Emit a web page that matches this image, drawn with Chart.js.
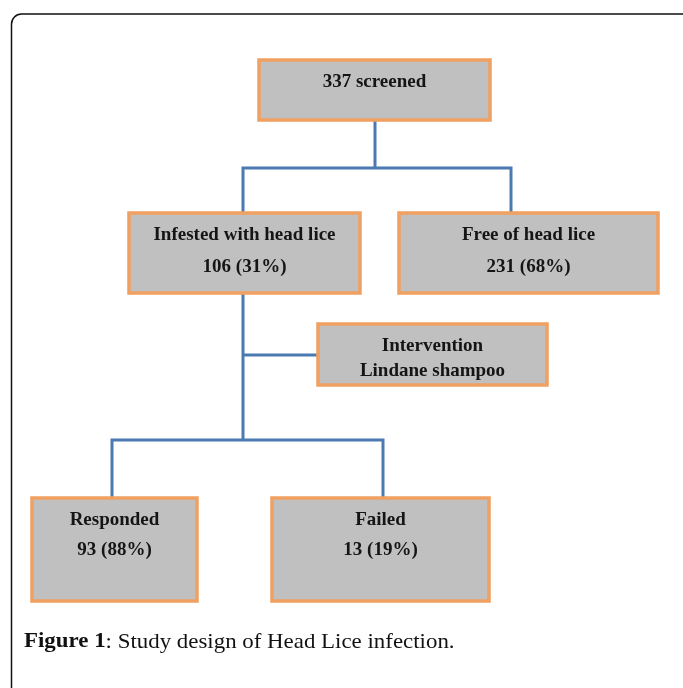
<!DOCTYPE html>
<html>
<head>
<meta charset="utf-8">
<script src="https://cdn.jsdelivr.net/npm/chart.js@4/dist/chart.umd.min.js"></script>
<style>
	html, body { margin: 0; padding: 0; background: #fff; }
	#chart { display: block; }
</style>
</head>
<body>
<canvas id="chart" width="683" height="688"></canvas>
<script>

/*
 * Flowchart content.
 */
const nodeLabels = [ "337 screened", "Infested with head lice", "Free of head lice", "Intervention", "Responded", "Failed" ];
const nodeSublabels = [ "", "106 (31%)", "231 (68%)", "Lindane shampoo", "93 (88%)", "13 (19%)" ];
const captionBold = "Figure 1";
const captionText = ": Study design of Head Lice infection.";

/*
 * Box layout, in chart units ( x: 0..683, y: 0..688 downwards ).
 */
const boxLeft   = [ 259, 129, 399, 318,  32, 272 ];
const boxTop    = [  60, 213, 213, 324, 498, 498 ];
const boxRight  = [ 490, 360, 658, 547, 197, 489 ];
const boxBottom = [ 120, 293, 293, 385, 601, 601 ];
const lineGap   = [  30,  32,  32,  25,  30,  30 ];

/*
 * Connector paths between the boxes.
 */
const connectors = [
	[ [ 375, 120 ], [ 375, 168 ] ],
	[ [ 243, 213 ], [ 243, 168 ], [ 511, 168 ], [ 511, 213 ] ],
	[ [ 243, 293 ], [ 243, 440 ] ],
	[ [ 243, 355 ], [ 318, 355 ] ],
	[ [ 112, 498 ], [ 112, 440 ], [ 383, 440 ], [ 383, 498 ] ]
];

// Boxes, frame and caption drawn round the connector datasets.
const flowPlugin = {
	id: "flow",
	beforeDatasetsDraw: function( chart )
	{
		const ctx = chart.ctx;
		const x = chart.scales.x;
		const y = chart.scales.y;
		
		// Outer figure frame with rounded top-left corner.
		ctx.save();
		ctx.strokeStyle = "#111";
		ctx.lineWidth = 1.5;
		ctx.beginPath();
		ctx.moveTo( x.getPixelForValue( 11.5 ), y.getPixelForValue( 700 ) );
		ctx.lineTo( x.getPixelForValue( 11.5 ), y.getPixelForValue( 24 ) );
		ctx.arcTo( x.getPixelForValue( 11.5 ), y.getPixelForValue( 14 ), x.getPixelForValue( 21.5 ), y.getPixelForValue( 14 ), 10 );
		ctx.lineTo( x.getPixelForValue( 700 ), y.getPixelForValue( 14 ) );
		ctx.stroke();
		ctx.restore();
	},
	afterDatasetsDraw: function( chart )
	{
		const ctx = chart.ctx;
		const x = chart.scales.x;
		const y = chart.scales.y;
		
		ctx.save();
		nodeLabels.forEach( ( label, i ) =>
		{
			const left = x.getPixelForValue( boxLeft[i] );
			const right = x.getPixelForValue( boxRight[i] );
			const top = y.getPixelForValue( boxTop[i] );
			const bottom = y.getPixelForValue( boxBottom[i] );
			
			// Box body.
			ctx.fillStyle = "#c0c0c0";
			ctx.fillRect( left, top, right - left, bottom - top );
			ctx.strokeStyle = "#f0a060";
			ctx.lineWidth = 3.5;
			ctx.strokeRect( left, top, right - left, bottom - top );
			
			// Box text.
			const cx = ( left + right ) / 2;
			ctx.fillStyle = "#151515";
			ctx.font = "bold 19px 'Liberation Serif', 'DejaVu Serif', serif";
			ctx.textAlign = "center";
			ctx.textBaseline = "middle";
			ctx.fillText( label, cx, top + 22 );
			if( nodeSublabels[i] )
			{
				ctx.fillText( nodeSublabels[i], cx, top + 22 + lineGap[i] );
			}
		});
		
		// Figure caption, stretched a little to match the wider original face.
		const capX = x.getPixelForValue( 24 );
		const capY = y.getPixelForValue( 642 );
		ctx.textAlign = "left";
		ctx.textBaseline = "middle";
		ctx.fillStyle = "#111";
		ctx.translate( capX, capY );
		ctx.scale( 1.09, 1 );
		ctx.font = "bold 21px 'Liberation Serif', serif";
		ctx.fillText( captionBold, 0, 0 );
		const boldWidth = ctx.measureText( captionBold ).width;
		ctx.font = "21px 'Liberation Serif', serif";
		ctx.fillText( captionText, boldWidth, 0 );
		ctx.restore();
	}
};

new Chart( document.getElementById( "chart" ), {
	type: "scatter",
	data: {
		datasets: connectors.map( path => ({
			data: path.map( p => ({ x: p[0], y: p[1] }) ),
			showLine: true,
			borderColor: "#4a7ab0",
			borderWidth: 3,
			pointRadius: 0,
			fill: false,
			tension: 0
		}))
	},
	options: {
		responsive: false,
		animation: false,
		layout: { padding: 0 },
		plugins: {
			legend: { display: false },
			title: { display: false },
			tooltip: { enabled: false }
		},
		scales: {
			x: { type: "linear", min: 0, max: 683, display: false },
			y: { type: "linear", min: 0, max: 688, reverse: true, display: false }
		}
	},
	plugins: [ flowPlugin ]
});
</script>
</body>
</html>
